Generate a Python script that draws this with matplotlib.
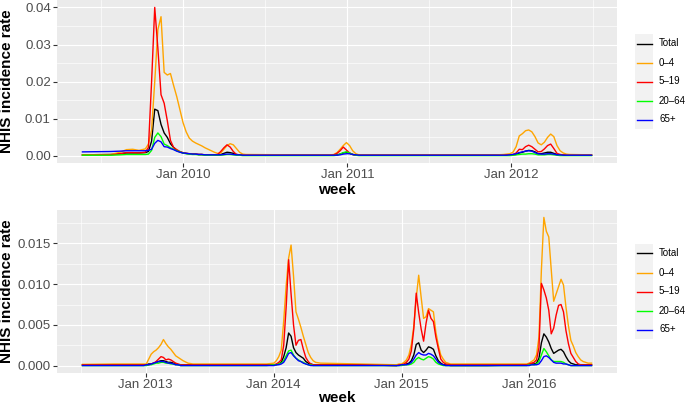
import matplotlib
matplotlib.use("Agg")
import matplotlib.pyplot as plt
import matplotlib.dates as mdates
from matplotlib.lines import Line2D
from matplotlib.patches import Rectangle
from matplotlib.ticker import FormatStrFormatter, MultipleLocator
import pandas as pd

plt.rcParams["font.family"] = ["Liberation Sans", "DejaVu Sans"]

W, H = 685, 405

LABELS = ["Total", "0–4", "5–19", "20–64", "65+"]
COLORS = ["#000000", "#FFA500", "#FF0000", "#00FF00", "#0000FF"]

# ---- panel 1: May 2009 - Jun 2012 (weekly rates) ----
TOP_WEEKS = [
    "2009-05-21", "2009-07-23", "2009-08-13", "2009-08-27", "2009-09-10", "2009-09-24", "2009-10-08",
    "2009-10-15", "2009-10-22", "2009-10-29", "2009-11-05", "2009-11-12", "2009-11-19", "2009-11-26",
    "2009-12-03", "2009-12-10", "2009-12-17", "2009-12-24", "2009-12-31",
    "2010-01-07", "2010-01-14", "2010-01-21", "2010-01-28", "2010-02-04", "2010-02-11", "2010-02-18", "2010-02-25",
    "2010-03-04", "2010-03-11", "2010-03-18", "2010-03-25", "2010-04-01", "2010-04-08", "2010-04-15", "2010-04-22", "2010-04-29",
    "2010-05-06", "2010-05-13", "2010-05-20",
    "2010-09-02", "2010-11-25", "2010-12-02", "2010-12-09", "2010-12-16", "2010-12-23", "2010-12-30",
    "2011-01-06", "2011-01-13", "2011-01-20", "2011-01-27", "2011-06-02", "2011-12-01",
    "2011-12-15", "2011-12-22", "2011-12-29", "2012-01-05", "2012-01-12", "2012-01-19", "2012-01-26",
    "2012-02-02", "2012-02-09", "2012-02-16", "2012-02-23", "2012-03-01", "2012-03-08", "2012-03-15", "2012-03-22", "2012-03-29",
    "2012-04-05", "2012-04-12", "2012-04-19", "2012-04-26", "2012-05-03", "2012-05-10", "2012-06-28",
]
TOP_TOTAL = [
    0.0003, 0.0004, 0.0006, 0.0008, 0.0008, 0.0008, 0.0009,
    0.0012, 0.0040, 0.0126, 0.0122, 0.0085, 0.0062, 0.0050,
    0.0033, 0.0023, 0.0015, 0.0011, 0.0008,
    0.0007, 0.0006, 0.0005, 0.0005, 0.0004, 0.0004, 0.0003, 0.0003,
    0.0003, 0.0003, 0.0003, 0.0004, 0.0007, 0.0010, 0.0009, 0.0007, 0.0004,
    0.0003, 0.0002, 0.0002,
    0.0002, 0.0002, 0.0002, 0.0003, 0.0005, 0.0008, 0.0010,
    0.0007, 0.0004, 0.0002, 0.0002, 0.0002, 0.0002,
    0.0002, 0.0002, 0.0002, 0.0003, 0.0004, 0.0008, 0.0010,
    0.0013, 0.0015, 0.0014, 0.0011, 0.0006, 0.0006, 0.0008, 0.0010, 0.0010,
    0.0007, 0.0004, 0.0003, 0.0002, 0.0002, 0.0002, 0.0002,
]
TOP_AGE_0_4 = [
    0.0003, 0.0004, 0.0010, 0.0017, 0.0018, 0.0015, 0.0019,
    0.0032, 0.0070, 0.0200, 0.0340, 0.0375, 0.0225, 0.0218,
    0.0222, 0.0190, 0.0160, 0.0125, 0.0090,
    0.0065, 0.0048, 0.0040, 0.0035, 0.0031, 0.0027, 0.0022, 0.0018,
    0.0014, 0.0010, 0.0007, 0.0008, 0.0018, 0.0028, 0.0033, 0.0030, 0.0020,
    0.0010, 0.0005, 0.0004,
    0.0003, 0.0003, 0.0004, 0.0009, 0.0018, 0.0028, 0.0036,
    0.0028, 0.0014, 0.0006, 0.0003, 0.0003, 0.0003,
    0.0004, 0.0005, 0.0006, 0.0010, 0.0025, 0.0054, 0.0060,
    0.0068, 0.0070, 0.0065, 0.0052, 0.0035, 0.0030, 0.0037, 0.0050, 0.0059,
    0.0052, 0.0028, 0.0014, 0.0008, 0.0005, 0.0004, 0.0003,
]
TOP_AGE_5_19 = [
    0.0002, 0.0003, 0.0006, 0.0009, 0.0009, 0.0008, 0.0010,
    0.0023, 0.0200, 0.0400, 0.0290, 0.0165, 0.0142, 0.0095,
    0.0042, 0.0023, 0.0017, 0.0012, 0.0009,
    0.0007, 0.0006, 0.0005, 0.0005, 0.0004, 0.0004, 0.0003, 0.0003,
    0.0003, 0.0003, 0.0004, 0.0012, 0.0022, 0.0030, 0.0024, 0.0012, 0.0004,
    0.0003, 0.0002, 0.0002,
    0.0002, 0.0002, 0.0003, 0.0007, 0.0014, 0.0024, 0.0016,
    0.0008, 0.0004, 0.0002, 0.0002, 0.0002, 0.0002,
    0.0002, 0.0003, 0.0003, 0.0004, 0.0008, 0.0018, 0.0017,
    0.0025, 0.0029, 0.0025, 0.0018, 0.0011, 0.0012, 0.0019, 0.0028, 0.0032,
    0.0020, 0.0007, 0.0004, 0.0003, 0.0002, 0.0002, 0.0002,
]
TOP_AGE_20_64 = [
    0.0002, 0.0002, 0.0003, 0.0004, 0.0004, 0.0004, 0.0004,
    0.0005, 0.0015, 0.0050, 0.0062, 0.0052, 0.0032, 0.0028,
    0.0022, 0.0018, 0.0014, 0.0011, 0.0008,
    0.0006, 0.0005, 0.0004, 0.0004, 0.0003, 0.0003, 0.0002, 0.0002,
    0.0002, 0.0002, 0.0002, 0.0002, 0.0003, 0.0004, 0.0004, 0.0003, 0.0002,
    0.0002, 0.0001, 0.0001,
    0.0001, 0.0001, 0.0001, 0.0002, 0.0005, 0.0009, 0.0011,
    0.0008, 0.0004, 0.0002, 0.0001, 0.0001, 0.0001,
    0.0001, 0.0001, 0.0001, 0.0002, 0.0003, 0.0004, 0.0005,
    0.0005, 0.0006, 0.0006, 0.0005, 0.0003, 0.0003, 0.0003, 0.0004, 0.0004,
    0.0003, 0.0002, 0.0001, 0.0001, 0.0001, 0.0001, 0.0001,
]
TOP_AGE_65 = [
    0.0011, 0.0012, 0.0013, 0.0014, 0.0014, 0.0014, 0.0014,
    0.0015, 0.0018, 0.0034, 0.0042, 0.0038, 0.0025, 0.0024,
    0.0020, 0.0017, 0.0013, 0.0010, 0.0008,
    0.0007, 0.0006, 0.0005, 0.0005, 0.0004, 0.0004, 0.0003, 0.0003,
    0.0003, 0.0003, 0.0003, 0.0003, 0.0004, 0.0005, 0.0005, 0.0004, 0.0003,
    0.0003, 0.0002, 0.0002,
    0.0002, 0.0002, 0.0002, 0.0002, 0.0003, 0.0005, 0.0006,
    0.0006, 0.0004, 0.0003, 0.0002, 0.0002, 0.0002,
    0.0002, 0.0002, 0.0003, 0.0004, 0.0006, 0.0009, 0.0011,
    0.0013, 0.0014, 0.0013, 0.0009, 0.0006, 0.0005, 0.0005, 0.0006, 0.0006,
    0.0005, 0.0003, 0.0003, 0.0002, 0.0002, 0.0002, 0.0002,
]

# ---- panel 2: Jul 2012 - Jun 2016 ----
BOT_WEEKS = [
    "2012-07-05", "2012-10-04", "2012-12-20", "2012-12-27",
    "2013-01-03", "2013-01-10", "2013-01-17", "2013-01-24", "2013-01-31", "2013-02-07", "2013-02-14", "2013-02-21", "2013-02-28",
    "2013-03-07", "2013-03-14", "2013-03-21", "2013-03-28", "2013-04-04", "2013-04-11", "2013-04-18", "2013-05-02", "2013-05-16",
    "2013-09-05", "2013-12-12",
    "2014-01-02", "2014-01-09", "2014-01-16", "2014-01-23", "2014-01-30", "2014-02-06", "2014-02-13", "2014-02-20", "2014-02-27",
    "2014-03-06", "2014-03-13", "2014-03-20", "2014-03-27", "2014-04-03", "2014-04-10", "2014-04-17", "2014-04-24", "2014-05-01", "2014-05-15",
    "2014-09-04", "2014-12-18", "2014-12-25",
    "2015-01-01", "2015-01-08", "2015-01-15", "2015-01-22", "2015-01-29", "2015-02-05", "2015-02-12", "2015-02-19", "2015-02-26",
    "2015-03-05", "2015-03-12", "2015-03-19", "2015-03-26", "2015-04-02", "2015-04-09", "2015-04-16", "2015-04-23", "2015-04-30", "2015-05-07", "2015-05-21",
    "2015-09-03", "2015-12-24", "2015-12-31",
    "2016-01-07", "2016-01-14", "2016-01-21", "2016-01-28", "2016-02-04", "2016-02-11", "2016-02-18", "2016-02-25",
    "2016-03-03", "2016-03-10", "2016-03-17", "2016-03-24", "2016-03-31", "2016-04-07", "2016-04-14", "2016-04-21", "2016-04-28",
    "2016-05-05", "2016-05-12", "2016-05-19", "2016-05-26", "2016-06-02", "2016-06-16", "2016-06-26",
]
BOT_TOTAL = [
    0.0001, 0.0001, 0.0001, 0.0001,
    0.0001, 0.0002, 0.0002, 0.0003, 0.0004, 0.0005, 0.0006, 0.0006, 0.0005,
    0.0004, 0.0004, 0.0003, 0.0002, 0.0001, 0.0001, 0.0001, 0.0001, 0.0001,
    0.0001, 0.0001,
    0.0001, 0.0001, 0.0002, 0.0004, 0.0011, 0.0022, 0.0040, 0.0036, 0.0022,
    0.0016, 0.0013, 0.0011, 0.0009, 0.0005, 0.0003, 0.0002, 0.0001, 0.0001, 0.0001,
    0.0001, 0.0000, 0.0001,
    0.0001, 0.0001, 0.0002, 0.0003, 0.0006, 0.0013, 0.0026, 0.0028, 0.0019,
    0.0016, 0.0019, 0.0023, 0.0022, 0.0020, 0.0012, 0.0006, 0.0003, 0.0001, 0.0001, 0.0000,
    0.0000, 0.0001, 0.0001,
    0.0002, 0.0002, 0.0003, 0.0009, 0.0028, 0.0039, 0.0035, 0.0029,
    0.0021, 0.0015, 0.0017, 0.0019, 0.0020, 0.0017, 0.0011, 0.0006, 0.0003,
    0.0002, 0.0001, 0.0001, 0.0001, 0.0001, 0.0001, 0.0001,
]
BOT_AGE_0_4 = [
    0.00015, 0.0002, 0.0002, 0.0002,
    0.0002, 0.0008, 0.0014, 0.0017, 0.0019, 0.0022, 0.0026, 0.0032, 0.0027,
    0.0023, 0.0020, 0.0016, 0.0012, 0.0010, 0.0008, 0.0006, 0.0003, 0.0002,
    0.0002, 0.0002,
    0.0003, 0.0006, 0.0011, 0.0019, 0.0055, 0.0098, 0.0132, 0.0148, 0.0110,
    0.0066, 0.0057, 0.0047, 0.0036, 0.0026, 0.0016, 0.0010, 0.0006, 0.0004, 0.0003,
    0.0002, 0.0001, 0.0002,
    0.0002, 0.0004, 0.0007, 0.0013, 0.0026, 0.0048, 0.0083, 0.0111, 0.0084,
    0.0058, 0.0060, 0.0070, 0.0068, 0.0066, 0.0041, 0.0025, 0.0013, 0.0008, 0.0004, 0.0002,
    0.0002, 0.0002, 0.0003,
    0.0005, 0.0007, 0.0013, 0.0035, 0.0118, 0.0182, 0.0165, 0.0158,
    0.0118, 0.0079, 0.0088, 0.0097, 0.0106, 0.0099, 0.0072, 0.0049, 0.0031,
    0.0024, 0.0016, 0.0011, 0.0007, 0.0005, 0.0003, 0.0003,
]
BOT_AGE_5_19 = [
    0.0001, 0.0001, 0.0001, 0.0001,
    0.0001, 0.0001, 0.0002, 0.0003, 0.0005, 0.0008, 0.0011, 0.0010, 0.0007,
    0.0008, 0.0007, 0.0005, 0.0003, 0.0002, 0.0001, 0.0001, 0.0001, 0.0001,
    0.0001, 0.0001,
    0.0001, 0.0002, 0.0004, 0.0007, 0.0025, 0.0072, 0.0130, 0.0088, 0.0050,
    0.0025, 0.0031, 0.0032, 0.0020, 0.0010, 0.0005, 0.0002, 0.0001, 0.0001, 0.0001,
    0.0001, 0.0000, 0.0001,
    0.0001, 0.0002, 0.0004, 0.0008, 0.0018, 0.0045, 0.0089, 0.0065, 0.0045,
    0.0030, 0.0052, 0.0068, 0.0058, 0.0054, 0.0035, 0.0021, 0.0008, 0.0004, 0.0002, 0.0001,
    0.0001, 0.0001, 0.0002,
    0.0003, 0.0004, 0.0007, 0.0022, 0.0101, 0.0093, 0.0083, 0.0068,
    0.0039, 0.0046, 0.0062, 0.0074, 0.0075, 0.0066, 0.0043, 0.0027, 0.0015,
    0.0010, 0.0005, 0.0002, 0.0001, 0.0001, 0.0001, 0.0001,
]
BOT_AGE_20_64 = [
    0.0000, 0.0000, 0.0000, 0.0000,
    0.0000, 0.0001, 0.0001, 0.0002, 0.0003, 0.0003, 0.0004, 0.0004, 0.0003,
    0.0003, 0.0002, 0.0002, 0.0001, 0.0001, 0.0000, 0.0000, 0.0000, 0.0000,
    0.0000, 0.0000,
    0.0001, 0.0001, 0.0002, 0.0003, 0.0006, 0.0012, 0.0018, 0.0019, 0.0013,
    0.0009, 0.0007, 0.0005, 0.0004, 0.0002, 0.0001, 0.0001, 0.0000, 0.0000, 0.0000,
    0.0000, 0.0000, 0.0000,
    0.0000, 0.0001, 0.0001, 0.0001, 0.0002, 0.0004, 0.0008, 0.0010, 0.0008,
    0.0007, 0.0009, 0.0011, 0.0010, 0.0008, 0.0004, 0.0002, 0.0001, 0.0000, 0.0000, 0.0000,
    0.0000, 0.0000, 0.0001,
    0.0001, 0.0001, 0.0002, 0.0005, 0.0013, 0.0021, 0.0017, 0.0012,
    0.0007, 0.0005, 0.0005, 0.0005, 0.0005, 0.0004, 0.0002, 0.0001, 0.0000,
    0.0000, 0.0000, 0.0000, 0.0000, 0.0000, 0.0000, 0.0000,
]
BOT_AGE_65 = [
    0.0000, 0.0000, 0.0000, 0.0000,
    0.0001, 0.0001, 0.0002, 0.0003, 0.0004, 0.0005, 0.0005, 0.0005, 0.0004,
    0.0003, 0.0003, 0.0002, 0.0001, 0.0001, 0.0000, 0.0000, 0.0000, 0.0000,
    0.0000, 0.0000,
    0.0000, 0.0001, 0.0001, 0.0002, 0.0004, 0.0009, 0.0015, 0.0016, 0.0012,
    0.0009, 0.0006, 0.0005, 0.0003, 0.0002, 0.0001, 0.0000, 0.0000, 0.0000, 0.0000,
    0.0000, 0.0000, 0.0000,
    0.0001, 0.0001, 0.0001, 0.0002, 0.0004, 0.0008, 0.0013, 0.0016, 0.0014,
    0.0013, 0.0013, 0.0015, 0.0014, 0.0012, 0.0008, 0.0004, 0.0002, 0.0001, 0.0000, 0.0000,
    0.0000, 0.0000, 0.0000,
    0.0001, 0.0001, 0.0001, 0.0002, 0.0006, 0.0011, 0.0012, 0.0010,
    0.0007, 0.0004, 0.0003, 0.0003, 0.0003, 0.0002, 0.0002, 0.0001, 0.0000,
    0.0000, 0.0000, 0.0000, 0.0000, 0.0000, 0.0000, 0.0000,
]


def fx(x):
    return x / W


def fy(y):
    return 1 - y / H


def draw_panel(fig, top, weeks, series, ystep, yfmt):
    ax = fig.add_axes([fx(57), fy(top + 163), 560 / W, 163 / H])
    ax.set_facecolor("#EBEBEB")
    dates = pd.to_datetime(weeks)
    for vals, col in zip(series, COLORS):
        ax.plot(dates, vals, color=col, lw=1.0, solid_joinstyle="round")

    # ggplot-style 5% expansion
    x0, x1 = mdates.date2num(dates[0]), mdates.date2num(dates[-1])
    dx = 0.05 * (x1 - x0)
    ax.set_xlim(x0 - dx, x1 + dx)
    lo = min(min(s) for s in series)
    hi = max(max(s) for s in series)
    dy = 0.05 * (hi - lo)
    ax.set_ylim(lo - dy, hi + dy)

    ax.xaxis.set_major_locator(mdates.YearLocator())
    ax.xaxis.set_major_formatter(mdates.DateFormatter("%b %Y"))
    ax.xaxis.set_minor_locator(mdates.MonthLocator(bymonth=7))
    ax.yaxis.set_major_locator(MultipleLocator(ystep))
    ax.yaxis.set_minor_locator(MultipleLocator(ystep / 2))
    ax.yaxis.set_major_formatter(FormatStrFormatter(yfmt))

    ax.grid(which="major", color="white", lw=0.85)
    ax.grid(which="minor", color="white", lw=0.45)
    ax.set_axisbelow(True)
    for s in ax.spines.values():
        s.set_visible(False)
    ax.tick_params(which="major", length=3, width=0.8, color="#333333",
                   labelcolor="#4D4D4D", labelsize=9.5, pad=1.5)
    ax.tick_params(which="minor", length=0)

    mid = top + 163 / 2
    fig.text(fx(7.5), fy(mid), "NHIS incidence rate", rotation=90,
             ha="center", va="center", fontsize=11, fontweight="bold")

    # legend: grey key column with coloured lines
    key_top = mid - 47.5
    fig.patches.append(Rectangle((fx(635), fy(key_top + 95)), 18 / W, 95 / H,
                                 transform=fig.transFigure, facecolor="#F2F2F2",
                                 edgecolor="none"))
    for i, (lab, col) in enumerate(zip(LABELS, COLORS)):
        yc = key_top + 9.5 + 19 * i
        fig.add_artist(Line2D([fx(636.5), fx(651.5)], [fy(yc), fy(yc)],
                              transform=fig.transFigure, color=col, lw=1.0))
        fig.text(fx(659), fy(yc), lab, ha="left", va="center", fontsize=7)
    return ax


fig = plt.figure(figsize=(W / 100, H / 100), dpi=100)
draw_panel(fig, 0, TOP_WEEKS,
           [TOP_TOTAL, TOP_AGE_0_4, TOP_AGE_5_19, TOP_AGE_20_64, TOP_AGE_65],
           0.01, "%.2f")
draw_panel(fig, 210, BOT_WEEKS,
           [BOT_TOTAL, BOT_AGE_0_4, BOT_AGE_5_19, BOT_AGE_20_64, BOT_AGE_65],
           0.005, "%.3f")
fig.text(fx(337), fy(190), "week", ha="center", va="center", fontsize=11, fontweight="bold")
fig.text(fx(337), fy(398.5), "week", ha="center", va="center", fontsize=11, fontweight="bold")

fig.savefig("out.png", dpi=100)
